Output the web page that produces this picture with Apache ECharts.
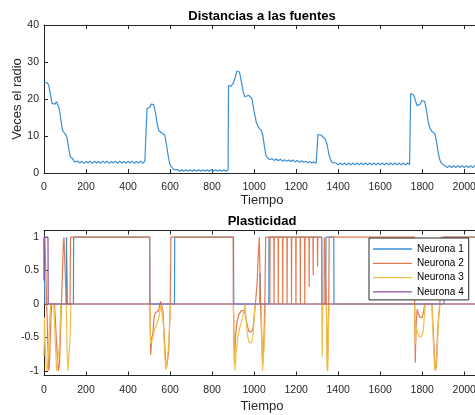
<!DOCTYPE html>
<html>
<head>
<meta charset="utf-8">
<script src="https://cdn.jsdelivr.net/npm/echarts@6/dist/echarts.min.js"></script>
<style>html,body{margin:0;padding:0;background:#fff;}#c{width:475px;height:415px;}</style>
</head>
<body>
<div id="c"></div>
<script>
// ---- data ----
const xTicks = [0, 200, 400, 600, 800, 1000, 1200, 1400, 1600, 1800, 2000];
const yTicksTop = [0, 10, 20, 30, 40];
const yTicksBottom = [-1, -0.5, 0, 0.5, 1];
const seriesNames = ['Neurona 1', 'Neurona 2', 'Neurona 3', 'Neurona 4'];

// Distancias a las fuentes: [tiempo, veces el radio]
const distancia = [
  [0,24.6],[8,24.6],[14,24.4],[22,23.8],[30,21.5],[38,18.8],[45,18.3],[52,18.6],[60,19.3],[66,19.0],
  [72,17.5],[80,14.5],[88,11.5],[96,11.0],[104,10.3],[110,9.5],[118,6.5],[125,4.4],[132,4.2],[138,3.8],[144,3.0],
  [150,2.6],[160,3.2],[170,2.7],[180,3.2],[190,2.6],[200,3.1],[210,2.7],[220,3.2],[230,2.6],[240,3.2],
  [250,2.7],[260,3.1],[270,2.6],[280,3.2],[290,2.7],[300,3.2],[310,2.6],[320,3.1],[330,2.7],[340,3.2],
  [350,2.6],[360,3.2],[370,2.7],[380,3.1],[390,2.6],[400,3.2],[410,2.7],[420,3.2],[430,2.6],[440,3.1],
  [450,2.7],[460,3.2],[470,2.6],[480,3.2],[488,2.8],
  [490,17.4],[496,17.6],[503,17.7],[510,18.6],[516,18.9],[522,18.5],[530,16.5],[538,13.5],[546,11.5],[552,11.0],
  [560,10.8],[568,10.6],[575,10.2],[582,8.0],[590,5.0],[598,2.5],[605,1.8],[612,1.5],[618,0.9],
  [626,0.5],[636,0.9],[646,0.5],[656,0.9],[666,0.5],[676,0.9],[686,0.5],[696,0.9],[706,0.5],[716,0.9],
  [726,0.5],[736,0.9],[746,0.5],[756,0.9],[766,0.5],[776,0.9],[786,0.5],[796,0.9],[806,0.5],[816,0.9],
  [826,0.5],[836,0.9],[846,0.5],[856,0.9],[866,0.5],[876,0.8],
  [878,23.6],[890,23.5],[900,24.2],[910,25.8],[918,27.5],[924,28.0],[930,27.3],[940,24.5],[948,21.8],[956,20.6],
  [965,20.5],[975,21.0],[983,21.2],[990,20.0],[1000,16.5],[1010,13.8],[1016,12.9],[1025,12.0],[1035,11.5],
  [1042,10.0],[1050,6.8],[1056,4.8],[1065,4.0],[1075,3.6],
  [1085,3.9],[1095,3.4],[1105,3.8],[1115,3.3],[1125,3.7],[1135,3.2],[1145,3.6],[1155,3.2],[1165,3.5],[1175,3.1],
  [1185,3.5],[1195,3.0],[1205,3.4],[1215,2.9],[1225,3.3],[1235,2.9],[1245,3.2],[1255,2.8],[1265,3.1],[1275,2.7],
  [1285,3.0],[1295,2.6],[1302,2.7],
  [1304,10.4],[1312,10.5],[1320,10.2],[1330,9.6],[1340,9.0],[1348,7.5],[1356,5.0],[1364,3.5],[1372,2.8],[1380,2.4],
  [1390,2.7],[1400,2.2],[1410,2.7],[1420,2.2],[1430,2.7],[1440,2.2],[1450,2.7],[1460,2.2],[1470,2.7],[1480,2.2],
  [1490,2.7],[1500,2.2],[1510,2.7],[1520,2.2],[1530,2.7],[1540,2.2],[1550,2.7],[1560,2.2],[1570,2.7],[1580,2.2],
  [1590,2.7],[1600,2.2],[1610,2.7],[1620,2.2],[1630,2.7],[1640,2.2],[1650,2.7],[1660,2.2],[1670,2.7],[1680,2.2],
  [1690,2.7],[1700,2.2],[1710,2.7],[1720,2.2],[1730,2.7],[1740,2.3],
  [1745,21.5],[1752,21.4],[1760,21.0],[1768,19.5],[1775,18.2],[1782,17.9],[1790,18.6],[1798,19.6],[1805,19.9],
  [1812,19.3],[1820,17.0],[1828,14.0],[1836,12.2],[1845,11.3],[1855,10.9],[1862,10.3],[1868,8.5],[1876,5.5],
  [1884,3.5],[1892,2.6],[1900,2.2],[1910,1.8],
  [1920,1.5],[1930,2.0],[1940,1.5],[1950,2.0],[1960,1.5],[1970,2.0],[1980,1.5],[1990,2.0],[2000,1.5],[2010,2.0],
  [2020,1.5],[2030,2.0],[2040,1.5],[2050,2.0],[2060,1.5],[2075,1.8]
];

// Plasticidad
const neurona1 = [
  [0,1],[3,1],[4,0],[106,0],[107,1],[110,1],[111,0],[140,0],[141,1],[503,1],[504,0],[621,0],[622,1],
  [902,1],[903,0],[1027,0],[1029,0.46],[1031,0],[1070,0],[1071,1],[1322,1],[1323,0],[1341,0],[1342,1],
  [1379,1],[1380,0],[1904,0],[1905,1],[2075,1]
];
const neurona2 = [
  [0,0.9],[4,1],[9,1],[13,0],[18,-0.6],[23,-1],[27,-0.8],[33,-0.2],[37,0],[50,0],[60,-0.6],[68,-1],[74,-0.9],
  [80,-0.3],[86,0.3],[92,0.9],[95,1],[104,1],[106,0],[124,0],[126,1],
  [503,1],[504,0],[508,-0.76],[513,-0.5],[518,-0.45],[524,-0.2],[530,-0.13],[545,-0.1],[555,0.04],[562,0.05],
  [566,-0.1],[574,-0.6],[582,-0.98],[588,-1],[594,-0.7],[601,0],[604,1],
  [900,1],[901,0],[906,-0.89],[911,-0.5],[918,-0.28],[928,-0.15],[940,-0.1],[950,-0.1],[958,-0.15],[966,-0.3],
  [975,-0.41],[986,-0.42],[994,-0.38],[1000,-0.2],[1006,0],[1014,0.3],[1020,0.75],[1025,1],[1028,1],[1030,0],
  [1036,-0.5],[1041,-0.9],[1046,-0.6],[1051,0],[1055,1],
  [1074,1],[1075,0],[1076,1],[1094,1],[1095,0],[1096,1],[1114,1],[1115,0],[1116,1],[1135,1],[1136,0],[1137,1],
  [1156,1],[1157,0],[1158,1],[1177,1],[1178,0],[1179,1],[1198,1],[1199,0],[1200,1],[1219,1],[1220,0],[1221,1],
  [1240,1],[1241,0],[1242,1],[1261,1],[1262,0.26],[1263,1],[1280,1],[1281,0.43],[1282,1],[1301,1],[1302,0.56],
  [1303,1],[1321,1],[1322,0],[1333,0],[1334,1],[1343,1],[1344,0],[1346,-0.6],[1349,-1],[1352,-0.5],[1355,0],
  [1357,1],[1763,1],[1764,0],[1767,-0.88],[1771,-0.3],[1776,-0.08],[1782,-0.15],[1790,-0.2],[1800,-0.2],
  [1807,-0.1],[1812,0],[1846,0],[1854,-0.5],[1862,-1],[1867,-0.9],[1875,-0.3],[1884,0],[1890,1],[2075,1]
];
const neurona3 = [
  [0,-0.78],[2,-0.2],[5,-0.5],[10,-0.9],[14,-1],[20,-0.8],[28,-0.2],[32,0],[47,0],[54,-0.6],[60,-1],[68,-1],
  [74,-0.6],[80,0],[106,0],[110,-0.7],[114,-1],[120,-1],[124,-0.5],[128,0],
  [504,0],[507,-0.6],[512,-0.62],[518,-0.5],[526,-0.38],[536,-0.3],[546,-0.22],[552,-0.1],[556,0],[563,0],
  [568,-0.3],[575,-0.8],[582,-0.97],[588,-0.95],[594,-0.6],[600,-0.1],[602,0],
  [902,0],[905,-0.7],[909,-1],[914,-0.75],[922,-0.5],[932,-0.35],[944,-0.22],[952,-0.1],[957,0],[962,-0.25],
  [970,-0.5],[978,-0.58],[988,-0.58],[996,-0.45],[1002,-0.1],[1005,0],[1034,0],[1037,-0.6],[1040,-1],[1045,-1],
  [1050,-0.5],[1054,0],
  [1322,0],[1324,-0.79],[1327,0],[1344,0],[1347,-0.9],[1350,-1],[1353,-0.5],[1356,0],
  [1764,0],[1767,-0.6],[1772,-0.35],[1778,-0.42],[1786,-0.49],[1796,-0.49],[1804,-0.42],[1810,-0.2],[1814,0],
  [1846,0],[1852,-0.5],[1858,-0.9],[1863,-1],[1868,-0.95],[1874,-0.5],[1880,-0.1],[1884,0],[2075,0]
];
const neurona4 = [[0,0.35],[1,1],[19,1],[20,0],[2075,0]];

// ---- chart ----
const FONT = 'Liberation Sans, Arial, Helvetica, sans-serif';
const AX = '#262626';
const colors = ['#3b8fd2', '#e27a50', '#f0bf48', '#9150a0'];
const X_MAX = 2075;
const LW = 1.2;

function xAxisPair(gridIndex, gap) {
  return [
    { type: 'value', gridIndex, position: 'bottom', min: 0, max: X_MAX, interval: 200,
      name: 'Tiempo', nameLocation: 'middle', nameGap: gap, nameMoveOverlap: false,
      nameTextStyle: { fontFamily: FONT, fontSize: 13, color: AX },
      axisLine: { show: true, onZero: false, lineStyle: { color: AX, width: 1 } },
      axisTick: { show: true, inside: true, length: 4, customValues: xTicks, lineStyle: { color: AX } },
      axisLabel: { show: true, margin: 9, fontFamily: FONT, fontSize: 10.5, color: AX,
                   customValues: xTicks, formatter: v => String(v) },
      splitLine: { show: false } },
    { type: 'value', gridIndex, position: 'top', min: 0, max: X_MAX, interval: 200,
      axisLine: { show: true, onZero: false, lineStyle: { color: AX, width: 1 } },
      axisTick: { show: true, inside: true, length: 4, customValues: xTicks, lineStyle: { color: AX } },
      axisLabel: { show: false }, splitLine: { show: false } }
  ];
}

const option = {
  animation: false,
  backgroundColor: '#fff',
  color: colors,
  grid: [
    { left: 44, top: 25, width: 436, height: 148, outerBoundsMode: 'none', containLabel: false },
    { left: 44, top: 230.5, width: 436, height: 145, outerBoundsMode: 'none', containLabel: false }
  ],
  xAxis: [...xAxisPair(0, 21), ...xAxisPair(1, 24)],
  yAxis: [
    { type: 'value', gridIndex: 0, min: yTicksTop[0], max: yTicksTop[yTicksTop.length - 1], interval: 10,
      name: 'Veces el radio', nameLocation: 'middle', nameGap: 20, nameRotate: 90, nameMoveOverlap: false,
      nameTextStyle: { fontFamily: FONT, fontSize: 13, color: AX },
      axisLine: { show: true, lineStyle: { color: AX, width: 1 } },
      axisTick: { show: true, inside: true, length: 4, lineStyle: { color: AX } },
      axisLabel: { margin: 5, fontFamily: FONT, fontSize: 10.5, color: AX },
      splitLine: { show: false } },
    { type: 'value', gridIndex: 1, min: -1.07, max: 1.1,
      axisLine: { show: true, onZero: false, lineStyle: { color: AX, width: 1 } },
      axisTick: { show: true, inside: true, length: 4, customValues: yTicksBottom, lineStyle: { color: AX } },
      axisLabel: { margin: 5, fontFamily: FONT, fontSize: 10.5, color: AX,
                   customValues: yTicksBottom, formatter: v => String(v) },
      splitLine: { show: false } }
  ],
  graphic: [
    { type: 'text', x: 262, y: 16, style: { text: 'Distancias a las fuentes', fill: '#000',
      font: 'bold 13px ' + FONT, align: 'center', verticalAlign: 'middle' } },
    { type: 'text', x: 262, y: 221, style: { text: 'Plasticidad', fill: '#000',
      font: 'bold 13px ' + FONT, align: 'center', verticalAlign: 'middle' } }
  ],
  legend: {
    data: seriesNames, orient: 'vertical', left: 369, top: 238,
    icon: 'path://M0,0H40V1.3H0Z',
    itemWidth: 39, itemHeight: 12, itemGap: 4.3, padding: [6, 5, 3, 4],
    backgroundColor: '#fff', borderColor: AX, borderWidth: 1, borderRadius: 0,
    textStyle: { fontFamily: FONT, fontSize: 10, color: '#000' }
  },
  series: [
    { name: 'Distancia', type: 'line', xAxisIndex: 0, yAxisIndex: 0, data: distancia,
      symbol: 'none', lineStyle: { width: LW, color: colors[0] }, itemStyle: { color: colors[0] } },
    { name: seriesNames[0], type: 'line', xAxisIndex: 2, yAxisIndex: 1, data: neurona1,
      symbol: 'none', lineStyle: { width: LW } },
    { name: seriesNames[1], type: 'line', xAxisIndex: 2, yAxisIndex: 1, data: neurona2,
      symbol: 'none', lineStyle: { width: LW } },
    { name: seriesNames[2], type: 'line', xAxisIndex: 2, yAxisIndex: 1, data: neurona3,
      symbol: 'none', lineStyle: { width: LW } },
    { name: seriesNames[3], type: 'line', xAxisIndex: 2, yAxisIndex: 1, data: neurona4,
      symbol: 'none', lineStyle: { width: LW } }
  ]
};

const chart = echarts.init(document.getElementById('c'), null, { renderer: 'canvas' });
chart.setOption(option);
</script>
</body>
</html>
